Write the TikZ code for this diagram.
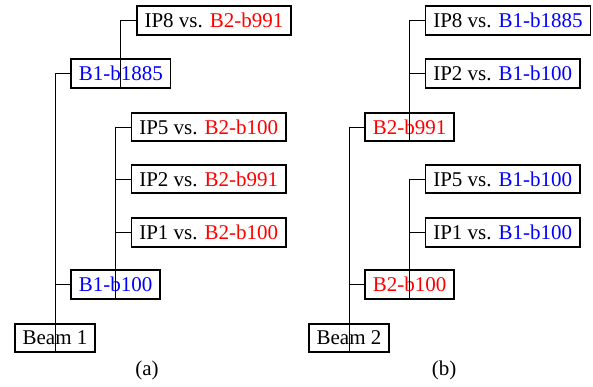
\documentclass[tikz,border=0pt]{standalone}
\usepackage{fontspec}
\setmainfont{Liberation Serif}
\usetikzlibrary{positioning}

\tikzset{box/.style={draw,line width=1.6pt,anchor=west,inner xsep=7.8pt,inner ysep=0pt,
  minimum height=28.5pt,outer sep=0pt},
  edge/.style={line width=0.9pt}}

\begin{document}
\begin{tikzpicture}[x=1pt,y=-1pt,every node/.style={font=\fontsize{21}{24}\selectfont}]
\useasboundingbox (0,0) rectangle (593,387);

% (a) beam 1
\node[box] (a1) at (14.8,338) {Beam 1};
\node[box,xshift=16pt] (a2) at (a1.center |- 0,284.5) {\textcolor{blue}{B1-b100}};
\node[box,xshift=16pt] (a3) at (a2.center |- 0,232.5) {IP1 vs. \textcolor{red}{B2-b100}};
\node[box,xshift=16pt] (a4) at (a2.center |- 0,179) {IP2 vs. \textcolor{red}{B2-b991}};
\node[box,xshift=16pt] (a5) at (a2.center |- 0,127) {IP5 vs. \textcolor{red}{B2-b100}};
\node[box,xshift=16pt] (a6) at (a1.center |- 0,73.5) {\textcolor{blue}{B1-b1885}};
\node[box,xshift=16pt] (a7) at (a6.center |- 0,20.5) {IP8 vs. \textcolor{red}{B2-b991}};
\node (capa) at (147,370) {(a)};

\draw[edge] (a1.south) |- (a2.west);
\draw[edge] (a1.south) |- (a6.west);
\draw[edge] (a2.south) |- (a3.west);
\draw[edge] (a2.south) |- (a4.west);
\draw[edge] (a2.south) |- (a5.west);
\draw[edge] (a6.south) |- (a7.west);

% (b) beam 2
\node[box] (b1) at (308.8,338) {Beam 2};
\node[box,xshift=16pt] (b2) at (b1.center |- 0,284.5) {\textcolor{red}{B2-b100}};
\node[box,xshift=16pt] (b3) at (b2.center |- 0,232.5) {IP1 vs. \textcolor{blue}{B1-b100}};
\node[box,xshift=16pt] (b4) at (b2.center |- 0,179) {IP5 vs. \textcolor{blue}{B1-b100}};
\node[box,xshift=16pt] (b5) at (b1.center |- 0,127) {\textcolor{red}{B2-b991}};
\node[box,xshift=16pt] (b6) at (b5.center |- 0,73.5) {IP2 vs. \textcolor{blue}{B1-b100}};
\node[box,xshift=16pt] (b7) at (b5.center |- 0,20.5) {IP8 vs. \textcolor{blue}{B1-b1885}};
\node (capb) at (444,370) {(b)};

\draw[edge] (b1.south) |- (b2.west);
\draw[edge] (b1.south) |- (b5.west);
\draw[edge] (b2.south) |- (b3.west);
\draw[edge] (b2.south) |- (b4.west);
\draw[edge] (b5.south) |- (b6.west);
\draw[edge] (b5.south) |- (b7.west);

\end{tikzpicture}
\end{document}
